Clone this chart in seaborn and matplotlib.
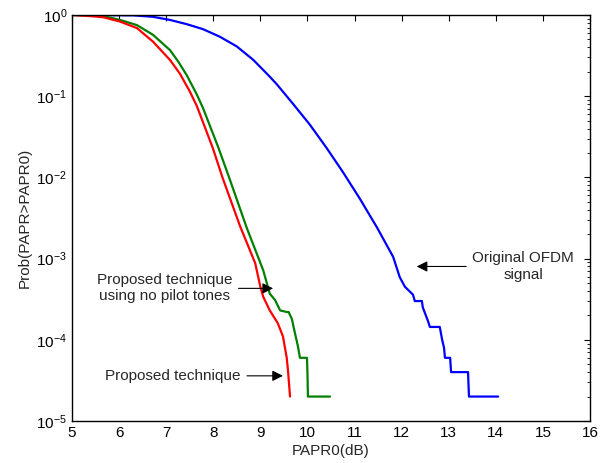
import numpy as np
import pandas as pd
import matplotlib
matplotlib.use('Agg')
import matplotlib.pyplot as plt
import seaborn as sns
from matplotlib.ticker import LogLocator, NullFormatter


# values
papr_orig = [5.0, 6.3, 6.72, 7.08, 7.44, 7.78, 8.14, 8.5, 8.85, 9.2, 9.35, 9.69, 10.05,
             10.41, 10.75, 11.11, 11.48, 11.82, 11.96, 12.07, 12.24, 12.28, 12.43, 12.45,
             12.56, 12.6, 12.81, 12.86, 12.9, 12.92, 13.03, 13.05, 13.41, 13.43, 14.05]
ccdf_orig = [1.0, 0.99, 0.95, 0.87, 0.77, 0.67, 0.54, 0.41, 0.28, 0.174, 0.14, 0.081, 0.0447,
             0.0229, 0.0117, 0.0055, 0.0024, 1.05e-3, 5.9e-4, 4.5e-4, 3.6e-4, 3.0e-4, 3.0e-4, 2.5e-4,
             1.7e-4, 1.44e-4, 1.44e-4, 1e-4, 8e-5, 6e-5, 6e-5, 4e-5, 4e-5, 2e-5, 2e-5]

papr_nopilot = [5.0, 5.4, 5.7, 6.02, 6.38, 6.72, 7.08, 7.26, 7.44, 7.65, 7.78, 8.1, 8.35, 8.71,
                9.06, 9.2, 9.31, 9.42, 9.56, 9.6, 9.67, 9.71, 9.8, 9.84, 9.99, 10.0, 10.01, 10.48]
ccdf_nopilot = [1.0, 0.99, 0.96, 0.87, 0.75, 0.57, 0.37, 0.265, 0.18, 0.105, 0.072, 0.024, 0.0095,
                0.0024, 7.2e-4, 3.7e-4, 3.1e-4, 2.3e-4, 2.2e-4, 2.2e-4, 1.8e-4, 1.4e-4, 8.2e-5, 6e-5,
                6e-5, 4e-5, 2e-5, 2e-5]

papr_prop = [5.0, 5.38, 5.66, 6.02, 6.38, 6.72, 7.08, 7.29, 7.5, 7.65, 7.99, 8.2, 8.57,
             8.89, 9.0, 9.06, 9.2, 9.37, 9.48, 9.56, 9.59, 9.63]
ccdf_prop = [1.0, 0.97, 0.94, 0.83, 0.69, 0.47, 0.28, 0.19, 0.115, 0.076, 0.023, 0.0098, 0.0025,
             8.8e-4, 4.5e-4, 3.4e-4, 2.3e-4, 1.6e-4, 1.1e-4, 6e-5, 4e-5, 2e-5]

x_ticks = list(range(5, 17))

sns.set_style('white')
plt.rcParams['font.family'] = ['Liberation Sans', 'DejaVu Sans']
plt.rcParams['font.size'] = 11

fig = plt.figure(figsize=(6.07, 4.63), dpi=100)
ax = fig.add_axes([0.1186, 0.0907, 0.8534, 0.8769])

sns.lineplot(x=papr_orig, y=ccdf_orig, sort=False, estimator=None, color='#0000ff', lw=1.6, ax=ax)
sns.lineplot(x=papr_nopilot, y=ccdf_nopilot, sort=False, estimator=None, color='#008000', lw=1.6, ax=ax)
sns.lineplot(x=papr_prop, y=ccdf_prop, sort=False, estimator=None, color='#ff0000', lw=1.6, ax=ax)

ax.set_yscale('log')
ax.set_xlim(5, 16)
ax.set_ylim(1e-5, 1)
ax.set_xticks(x_ticks)
ax.yaxis.set_minor_locator(LogLocator(base=10, subs=np.arange(2, 10)))
ax.yaxis.set_minor_formatter(NullFormatter())
ax.tick_params(which='both', direction='in', top=True, right=True, colors='k', labelsize=11)
ax.tick_params(which='major', length=4, width=0.8)
ax.tick_params(which='minor', length=2, width=0.6)
for s in ax.spines.values():
    s.set_color('k')
    s.set_linewidth(1.0)

ax.set_xlabel('PAPR0(dB)', fontsize=11, labelpad=3)
ax.set_ylabel('Prob(PAPR>PAPR0)', fontsize=11, labelpad=3)

arrow = dict(arrowstyle='-|>', color='k', lw=0.8, mutation_scale=16, shrinkA=2, shrinkB=0)
ax.annotate('Proposed technique\nusing no pilot tones', xy=(9.27, 4.3e-4), xytext=(6.97, 4.3e-4),
            ha='center', va='center', fontsize=11, arrowprops=arrow)
ax.annotate('Proposed technique', xy=(9.48, 3.6e-5), xytext=(7.15, 3.6e-5),
            ha='center', va='center', fontsize=11, arrowprops=arrow)
ax.annotate('Original OFDM\nsignal', xy=(12.32, 8e-4), xytext=(14.58, 8e-4),
            ha='center', va='center', fontsize=11, arrowprops=arrow)

fig.savefig('out.png', dpi=100)
